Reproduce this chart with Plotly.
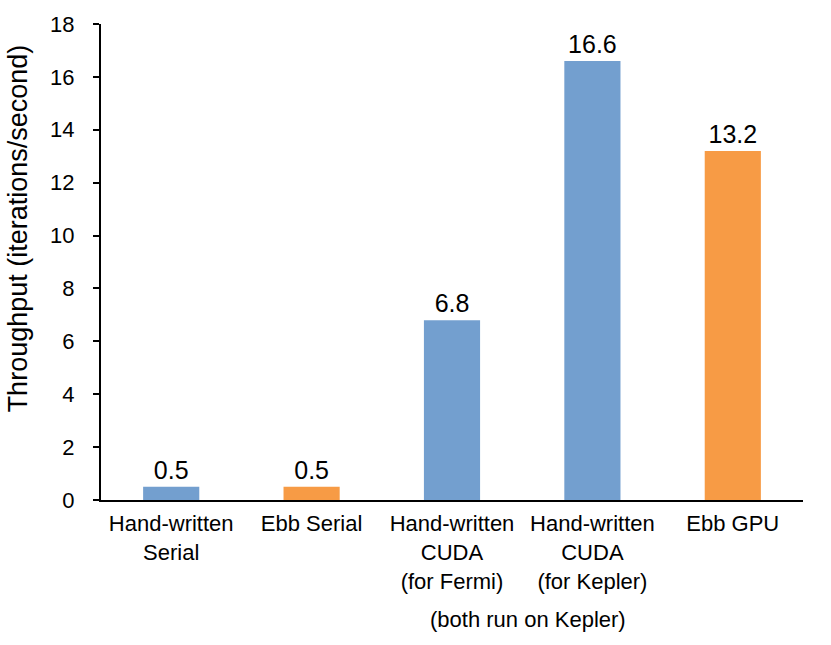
import plotly.graph_objects as go

categories = [
    "Hand-written<br>Serial",
    "Ebb Serial",
    "Hand-written<br>CUDA<br>(for Fermi)",
    "Hand-written<br>CUDA<br>(for Kepler)",
    "Ebb GPU",
]
throughput = [0.5, 0.5, 6.8, 16.6, 13.2]
bar_labels = ["0.5", "0.5", "6.8", "16.6", "13.2"]
bar_colors = ["#739fcf", "#f79b45", "#739fcf", "#739fcf", "#f79b45"]
y_ticks = [0, 2, 4, 6, 8, 10, 12, 14, 16, 18]
note_text = "(both run on Kepler)"
y_title = "Throughput (iterations/second)"

FONT = "Liberation Sans, Arial, Helvetica, sans-serif"

fig = go.Figure(
    go.Bar(
        x=categories,
        y=throughput,
        text=bar_labels,
        textposition="outside",
        textfont=dict(size=25, color="black", family=FONT),
        marker=dict(color=bar_colors, line=dict(width=0)),
        cliponaxis=False,
        width=0.4,
    )
)

fig.add_annotation(
    x=2.54, y=-0.252, xref="x", yref="paper",
    text=note_text, showarrow=False,
    font=dict(size=22, color="black", family=FONT),
    xanchor="center", yanchor="middle",
)

fig.add_annotation(
    x=-0.118, y=0.571, xref="paper", yref="paper",
    text=y_title, showarrow=False, textangle=-90,
    font=dict(size=27, color="black", family=FONT),
    xanchor="center", yanchor="middle",
)

fig.update_layout(
    width=831, height=645,
    margin=dict(l=101, r=28, t=24, b=145, autoexpand=False),
    paper_bgcolor="white", plot_bgcolor="white",
    showlegend=False,
    font=dict(family=FONT, color="black"),
    xaxis=dict(
        showline=True, linecolor="black", linewidth=2,
        ticks="", showgrid=False,
        tickfont=dict(size=22, color="black"),
        ticklabelstandoff=3,
    ),
    yaxis=dict(
        range=[0, 18], tickvals=y_ticks,
        showline=True, linecolor="black", linewidth=2,
        ticks="outside", ticklen=6, tickwidth=2, tickcolor="black",
        showgrid=False, zeroline=False,
        tickfont=dict(size=22, color="black"),
        ticklabelstandoff=14,
    ),
)

fig.write_html(
    "out.html",
    config={"displayModeBar": False},
    post_script="document.body.style.margin='0';document.body.style.overflow='hidden';",
)
